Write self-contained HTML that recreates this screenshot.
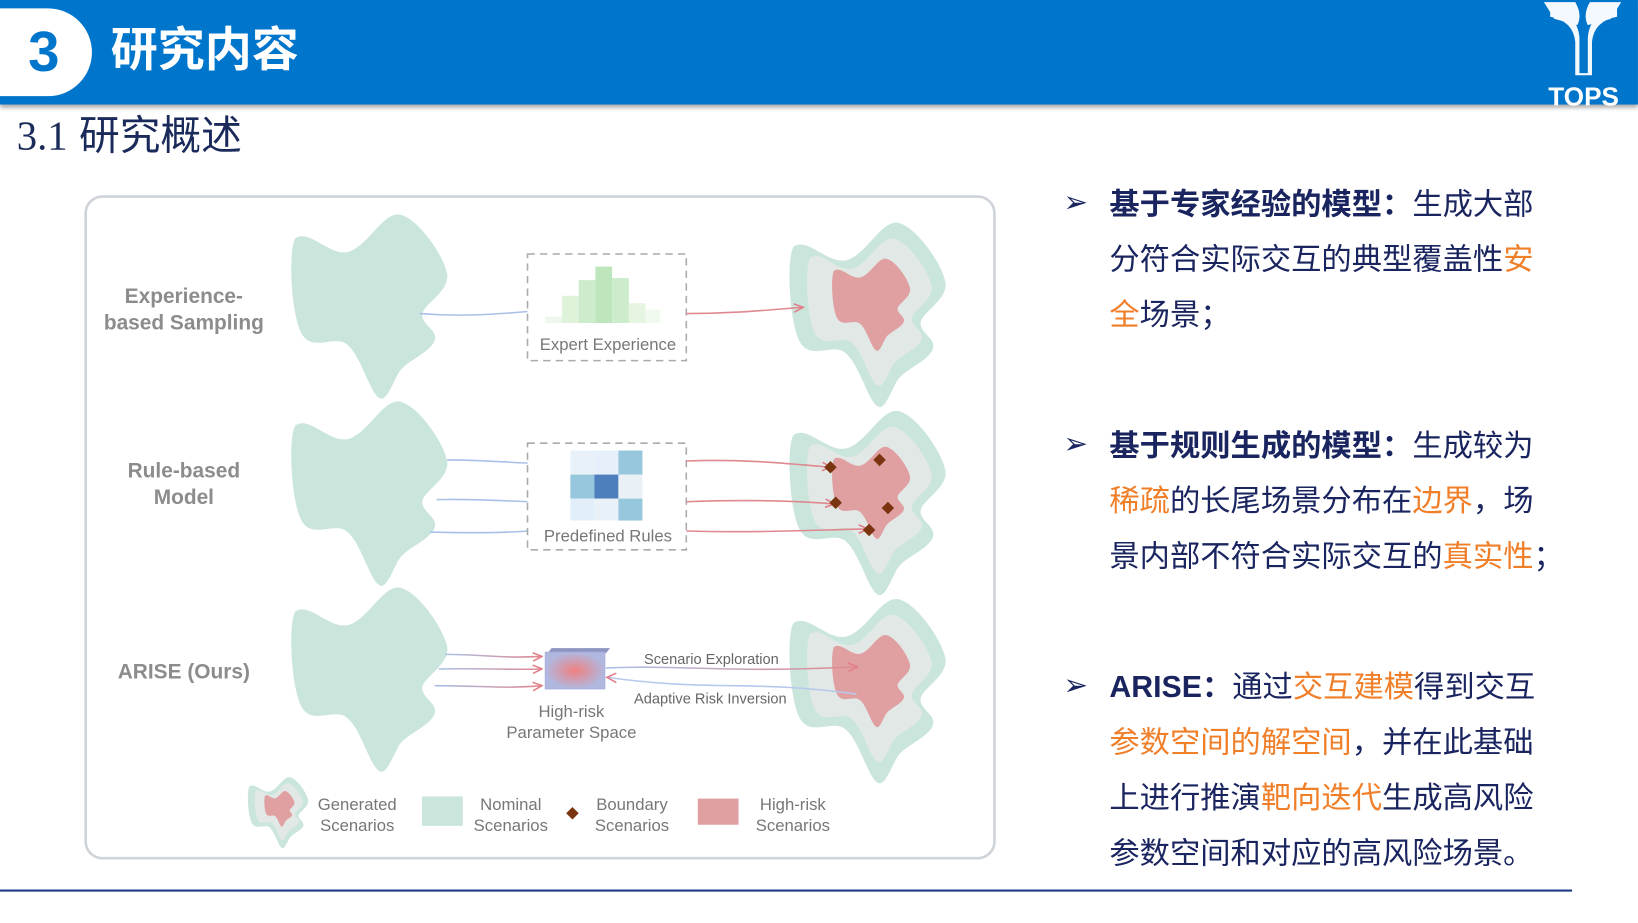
<!DOCTYPE html>
<html><head><meta charset="utf-8"><style>
body{margin:0;width:1638px;height:923px;overflow:hidden;background:#fff;}
#w{position:absolute;left:0;top:0;width:1568px;height:883px;transform:scale(1.0446,1.0453);transform-origin:0 0;font-family:"Liberation Sans","Noto Sans CJK SC",sans-serif;}
.hdr{position:absolute;left:0;top:0;width:1568px;height:100px;background:#0075cc;box-shadow:0 3px 4px rgba(0,0,0,.35);}
.tab{position:absolute;left:0;top:8px;width:88px;height:84px;background:#fff;border-radius:0 44px 44px 0;color:#0075cc;font-weight:bold;font-size:54px;line-height:84px;text-align:center;padding-right:4px;box-sizing:border-box;}
.ttl{position:absolute;left:106px;top:18px;color:#fff;font-weight:bold;font-size:45px;line-height:60px;}
.sub{position:absolute;left:16px;top:106px;font-size:39px;color:#1a2a5a;line-height:50px;}
.bl{position:absolute;left:1062px;font-size:29px;color:#1a2560;line-height:53px;white-space:nowrap;}
.bl b{font-weight:bold;}
.o{color:#f07f2a;}
.arw{position:absolute;left:1018px;font-size:28px;color:#1a2560;}
</style></head><body><div id="w">
<div class="hdr"></div>
<div class="tab">3</div>
<div class="ttl">研究内容</div>
<svg style="position:absolute;left:1470px;top:0" width="95" height="102">
<path d="M8,2 L38,2 Q45,14 40,24 L18,18 Z M82,2 L52,2 Q45,14 50,24 L72,18 Z" fill="#f4f8ff"/>
<path d="M14,8 Q40,12 42,36 L42,70 L50,70 L50,36 Q52,12 78,8 L78,16 Q56,20 54,40 L54,72 L38,72 L38,40 Q36,20 14,16Z" fill="#f4f8ff"/>
<text x="46" y="101" text-anchor="middle" font-family="Liberation Sans" font-weight="bold" font-size="25" fill="#fff">TOPS</text>
</svg>
<div class="sub"><span style="font-family:'Liberation Serif',serif">3.1</span> 研究概述</div>

<svg style="position:absolute;left:0;top:0" width="1568" height="883">
<defs>
<path id="b" d="M5,25 C20,15 40,45 60,38 C80,30 95,-5 112,2 C130,8 155,45 157,62 C158,80 130,92 132,103 C134,114 150,118 143,130 C135,142 115,148 108,160 C100,175 95,190 88,184 C78,176 70,140 55,130 C42,122 20,140 10,118 C0,95 -2,35 5,25Z"/>
<g id="g">
<use href="#b" fill="#c9e5dc"/>
<use href="#b" fill="#e2e8e5" transform="translate(80,92) scale(0.8) translate(-78,-95)"/>
<use href="#b" fill="#e0a0a2" transform="translate(82,84) scale(0.5) translate(-78,-95)"/>
</g>
<marker id="m" markerWidth="10" markerHeight="10" refX="8" refY="5" orient="auto" markerUnits="userSpaceOnUse"><path d="M0,1 L9,5 L0,9" fill="none" stroke="#e07f88" stroke-width="1.5"/></marker>
<linearGradient id="lg"><stop offset="0" stop-color="#a9c0e8"/><stop offset="1" stop-color="#e08890"/></linearGradient>
<radialGradient id="rg"><stop offset="0" stop-color="#f08080"/><stop offset="1" stop-color="#b0b8e0"/></radialGradient>
</defs>
<rect x="82" y="188" width="870" height="633" rx="16" fill="#fff" stroke="#cfd3da" stroke-width="2.5"/>
<g fill="#8c8c8c" font-weight="bold" font-size="20" text-anchor="middle">
<text x="176" y="290">Experience-</text><text x="176" y="315">based Sampling</text>
<text x="176" y="457">Rule-based</text><text x="176" y="482">Model</text>
<text x="176" y="649">ARISE (Ours)</text>
</g>
<g transform="translate(278,204) scale(0.957)"><use href="#b" fill="#c9e5dc"/></g>
<g transform="translate(278,383) scale(0.957)"><use href="#b" fill="#c9e5dc"/></g>
<g transform="translate(278,561) scale(0.957)"><use href="#b" fill="#c9e5dc"/></g>
<g transform="translate(755,212) scale(0.957)"><use href="#g"/></g>
<g transform="translate(755,392) scale(0.957)"><use href="#g"/></g>
<g transform="translate(755,572) scale(0.957)"><use href="#g"/></g>
<path d="M402,300 C440,303 470,301 505,298" stroke="#a9c0e8" stroke-width="1.5" fill="none"/>
<rect x="505" y="243" width="152" height="102" fill="#fff" stroke="#aaa" stroke-width="1.5" stroke-dasharray="7,5"/>
<g><rect x="522" y="303" width="16" height="6" fill="#eef8ea"/><rect x="538" y="283" width="16" height="26" fill="#dff2da"/><rect x="554" y="268" width="16" height="41" fill="#cdeccb"/><rect x="570" y="255" width="16" height="54" fill="#bde6bd"/><rect x="586" y="266" width="16" height="43" fill="#cdeccb"/><rect x="602" y="290" width="16" height="19" fill="#e6f5e2"/><rect x="618" y="296" width="14" height="13" fill="#f1faee"/></g>
<text x="582" y="335" text-anchor="middle" font-size="16" fill="#777">Expert  Experience</text>
<path d="M657,300 C700,300 730,297 768,294" stroke="#e08890" stroke-width="1.5" fill="none" marker-end="url(#m)"/>
<g stroke="#a9c0e8" stroke-width="1.5" fill="none"><path d="M428,440 C460,440 480,442 505,443"/><path d="M418,478 C450,477 480,479 505,480"/><path d="M412,509 C450,510 480,510 505,508"/></g>
<rect x="505" y="424" width="152" height="102" fill="#fff" stroke="#aaa" stroke-width="1.5" stroke-dasharray="7,5"/>
<g><rect x="546" y="431" width="23" height="23" fill="#e8f1f8"/><rect x="569" y="431" width="23" height="23" fill="#e6f0fa"/><rect x="592" y="431" width="23" height="23" fill="#97c7dc"/>
<rect x="546" y="454" width="23" height="23" fill="#97c7dc"/><rect x="569" y="454" width="23" height="23" fill="#4d7fbd"/><rect x="592" y="454" width="23" height="23" fill="#e9f1f6"/>
<rect x="546" y="477" width="23" height="21" fill="#e2eefa"/><rect x="569" y="477" width="23" height="21" fill="#e8f1f8"/><rect x="592" y="477" width="23" height="21" fill="#97c7dc"/></g>
<text x="582" y="518" text-anchor="middle" font-size="16" fill="#777">Predefined  Rules</text>
<g stroke="#e08890" stroke-width="1.5" fill="none"><path d="M657,441 C710,439 750,443 795,447" marker-end="url(#m)"/><path d="M657,480 C710,478 760,479 798,482" marker-end="url(#m)"/><path d="M657,508 C720,510 780,507 830,506" marker-end="url(#m)"/></g>
<g fill="#7a3510"><path d="M795,441 l6,6 l-6,6 l-6,-6z"/><path d="M842,434 l6,6 l-6,6 l-6,-6z"/><path d="M800,475 l6,6 l-6,6 l-6,-6z"/><path d="M850,480 l6,6 l-6,6 l-6,-6z"/><path d="M832,501 l6,6 l-6,6 l-6,-6z"/></g>
<g stroke="url(#lg)" stroke-width="1.5" fill="none"><path d="M426,626 C460,626 480,630 518,628" marker-end="url(#m)"/><path d="M420,640 C460,639 485,641 518,640" marker-end="url(#m)"/><path d="M416,656 C460,656 485,659 518,656" marker-end="url(#m)"/></g>
<path d="M528,620 L584,620 L580,625 L524,625Z" fill="#8d95c0"/>
<rect x="522" y="624" width="57" height="35" fill="url(#rg)" stroke="#aab0dd"/>
<path d="M580,639 C650,636 700,644 820,638" stroke="url(#lg)" stroke-width="1.5" fill="none" marker-end="url(#m)"/>
<path d="M820,664 C720,650 680,662 582,648" stroke="#b6c8ec" stroke-width="1.5" fill="none"/>
<path d="M590,644 L581,648 L590,653" stroke="#e07f88" stroke-width="1.5" fill="none"/>
<g font-size="14" fill="#666"><text x="681" y="635" text-anchor="middle">Scenario Exploration</text><text x="680" y="673" text-anchor="middle">Adaptive Risk Inversion</text></g>
<g font-size="16" fill="#777" text-anchor="middle"><text x="547" y="686">High-risk</text><text x="547" y="706">Parameter  Space</text></g>
<g transform="translate(237,743) scale(0.37)"><use href="#g"/></g>
<g font-size="16" fill="#777" text-anchor="middle">
<text x="342" y="775">Generated</text><text x="342" y="795">Scenarios</text>
<text x="489" y="775">Nominal</text><text x="489" y="795">Scenarios</text>
<text x="605" y="775">Boundary</text><text x="605" y="795">Scenarios</text>
<text x="759" y="775">High-risk</text><text x="759" y="795">Scenarios</text></g>
<rect x="404" y="762" width="39" height="28" fill="#c9e5dc"/>
<path d="M548,772 l6,6 l-6,6 l-6,-6z" fill="#7a3510"/>
<rect x="668" y="764" width="39" height="25" fill="#e0a0a2"/>
<line x1="0" y1="852" x2="1505" y2="852" stroke="#1f3c88" stroke-width="2"/>
</svg>

<div class="arw" style="top:177px">➢</div>
<div class="bl" style="top:170px"><b>基于专家经验的模型：</b>生成大部<br>分符合实际交互的典型覆盖性<span class="o">安</span><br><span class="o">全</span>场景；</div>
<div class="arw" style="top:408px">➢</div>
<div class="bl" style="top:401px"><b>基于规则生成的模型：</b>生成较为<br><span class="o">稀疏</span>的长尾场景分布在<span class="o">边界</span>，场<br>景内部不符合实际交互的<span class="o">真实性</span>；</div>
<div class="arw" style="top:639px">➢</div>
<div class="bl" style="top:632px"><b>ARISE：</b>通过<span class="o">交互建模</span>得到交互<br><span class="o">参数空间的解空间</span>，并在此基础<br>上进行推演<span class="o">靶向迭代</span>生成高风险<br>参数空间和对应的高风险场景。</div>
</div></body></html>
